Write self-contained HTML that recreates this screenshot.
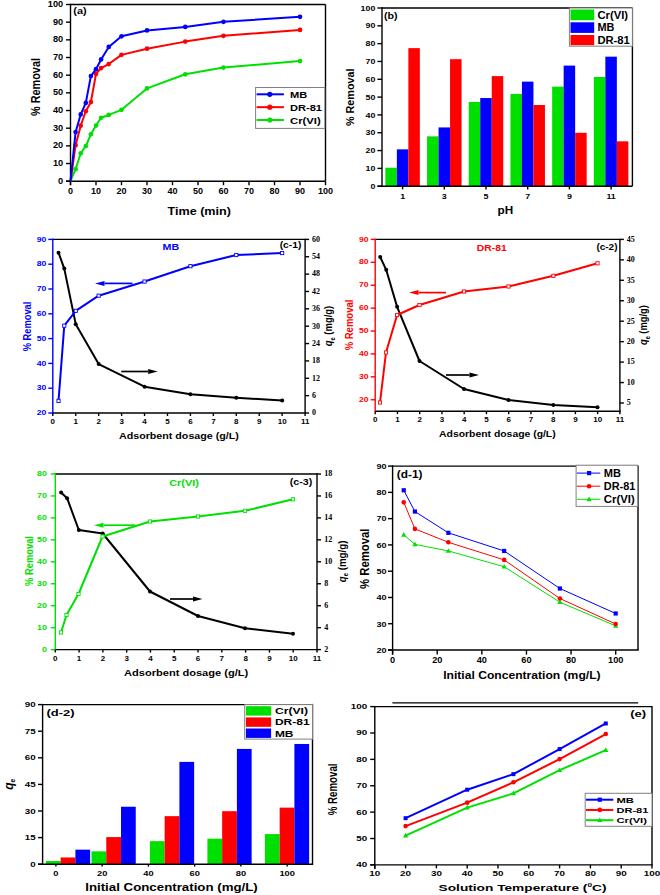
<!DOCTYPE html>
<html><head><meta charset="utf-8"><style>
html,body{margin:0;padding:0;background:#fff;}
svg{display:block;}
</style></head><body>
<svg xmlns="http://www.w3.org/2000/svg" width="660" height="895" viewBox="0 0 660 895">
<rect width="660" height="895" fill="#fff"/>
<line x1="70.5" y1="4.5" x2="325.5" y2="4.5" stroke="#000" stroke-width="1.4"/>
<line x1="325.5" y1="4.5" x2="325.5" y2="181.2" stroke="#000" stroke-width="1.4"/>
<line x1="66" y1="181.2" x2="325.5" y2="181.2" stroke="#000" stroke-width="1.4"/>
<line x1="70.5" y1="3.8" x2="70.5" y2="185.2" stroke="#000" stroke-width="1.4"/>
<line x1="66" y1="181.2" x2="70.5" y2="181.2" stroke="#000" stroke-width="1.4"/>
<text transform="translate(63.2,183.7) scale(1.070,1)" font-family='"Liberation Sans", sans-serif' font-size="8.6" font-weight="bold" fill="#000" text-anchor="end">0</text>
<line x1="70.5" y1="181.2" x2="70.5" y2="185.2" stroke="#000" stroke-width="1.4"/>
<text transform="translate(70.5,193.8)" font-family='"Liberation Sans", sans-serif' font-size="9" font-weight="bold" fill="#000" text-anchor="middle">0</text>
<line x1="66" y1="163.53" x2="70.5" y2="163.53" stroke="#000" stroke-width="1.4"/>
<text transform="translate(63.2,166.03) scale(1.070,1)" font-family='"Liberation Sans", sans-serif' font-size="8.6" font-weight="bold" fill="#000" text-anchor="end">10</text>
<line x1="96" y1="181.2" x2="96" y2="185.2" stroke="#000" stroke-width="1.4"/>
<text transform="translate(96,193.8)" font-family='"Liberation Sans", sans-serif' font-size="9" font-weight="bold" fill="#000" text-anchor="middle">10</text>
<line x1="66" y1="145.86" x2="70.5" y2="145.86" stroke="#000" stroke-width="1.4"/>
<text transform="translate(63.2,148.36) scale(1.070,1)" font-family='"Liberation Sans", sans-serif' font-size="8.6" font-weight="bold" fill="#000" text-anchor="end">20</text>
<line x1="121.5" y1="181.2" x2="121.5" y2="185.2" stroke="#000" stroke-width="1.4"/>
<text transform="translate(121.5,193.8)" font-family='"Liberation Sans", sans-serif' font-size="9" font-weight="bold" fill="#000" text-anchor="middle">20</text>
<line x1="66" y1="128.19" x2="70.5" y2="128.19" stroke="#000" stroke-width="1.4"/>
<text transform="translate(63.2,130.69) scale(1.070,1)" font-family='"Liberation Sans", sans-serif' font-size="8.6" font-weight="bold" fill="#000" text-anchor="end">30</text>
<line x1="147" y1="181.2" x2="147" y2="185.2" stroke="#000" stroke-width="1.4"/>
<text transform="translate(147,193.8)" font-family='"Liberation Sans", sans-serif' font-size="9" font-weight="bold" fill="#000" text-anchor="middle">30</text>
<line x1="66" y1="110.52" x2="70.5" y2="110.52" stroke="#000" stroke-width="1.4"/>
<text transform="translate(63.2,113.02) scale(1.070,1)" font-family='"Liberation Sans", sans-serif' font-size="8.6" font-weight="bold" fill="#000" text-anchor="end">40</text>
<line x1="172.5" y1="181.2" x2="172.5" y2="185.2" stroke="#000" stroke-width="1.4"/>
<text transform="translate(172.5,193.8)" font-family='"Liberation Sans", sans-serif' font-size="9" font-weight="bold" fill="#000" text-anchor="middle">40</text>
<line x1="66" y1="92.85" x2="70.5" y2="92.85" stroke="#000" stroke-width="1.4"/>
<text transform="translate(63.2,95.35) scale(1.070,1)" font-family='"Liberation Sans", sans-serif' font-size="8.6" font-weight="bold" fill="#000" text-anchor="end">50</text>
<line x1="198" y1="181.2" x2="198" y2="185.2" stroke="#000" stroke-width="1.4"/>
<text transform="translate(198,193.8)" font-family='"Liberation Sans", sans-serif' font-size="9" font-weight="bold" fill="#000" text-anchor="middle">50</text>
<line x1="66" y1="75.18" x2="70.5" y2="75.18" stroke="#000" stroke-width="1.4"/>
<text transform="translate(63.2,77.68) scale(1.070,1)" font-family='"Liberation Sans", sans-serif' font-size="8.6" font-weight="bold" fill="#000" text-anchor="end">60</text>
<line x1="223.5" y1="181.2" x2="223.5" y2="185.2" stroke="#000" stroke-width="1.4"/>
<text transform="translate(223.5,193.8)" font-family='"Liberation Sans", sans-serif' font-size="9" font-weight="bold" fill="#000" text-anchor="middle">60</text>
<line x1="66" y1="57.51" x2="70.5" y2="57.51" stroke="#000" stroke-width="1.4"/>
<text transform="translate(63.2,60.01) scale(1.070,1)" font-family='"Liberation Sans", sans-serif' font-size="8.6" font-weight="bold" fill="#000" text-anchor="end">70</text>
<line x1="249" y1="181.2" x2="249" y2="185.2" stroke="#000" stroke-width="1.4"/>
<text transform="translate(249,193.8)" font-family='"Liberation Sans", sans-serif' font-size="9" font-weight="bold" fill="#000" text-anchor="middle">70</text>
<line x1="66" y1="39.84" x2="70.5" y2="39.84" stroke="#000" stroke-width="1.4"/>
<text transform="translate(63.2,42.34) scale(1.070,1)" font-family='"Liberation Sans", sans-serif' font-size="8.6" font-weight="bold" fill="#000" text-anchor="end">80</text>
<line x1="274.5" y1="181.2" x2="274.5" y2="185.2" stroke="#000" stroke-width="1.4"/>
<text transform="translate(274.5,193.8)" font-family='"Liberation Sans", sans-serif' font-size="9" font-weight="bold" fill="#000" text-anchor="middle">80</text>
<line x1="66" y1="22.17" x2="70.5" y2="22.17" stroke="#000" stroke-width="1.4"/>
<text transform="translate(63.2,24.67) scale(1.070,1)" font-family='"Liberation Sans", sans-serif' font-size="8.6" font-weight="bold" fill="#000" text-anchor="end">90</text>
<line x1="300" y1="181.2" x2="300" y2="185.2" stroke="#000" stroke-width="1.4"/>
<text transform="translate(300,193.8)" font-family='"Liberation Sans", sans-serif' font-size="9" font-weight="bold" fill="#000" text-anchor="middle">90</text>
<line x1="66" y1="4.5" x2="70.5" y2="4.5" stroke="#000" stroke-width="1.4"/>
<text transform="translate(63.2,7) scale(1.070,1)" font-family='"Liberation Sans", sans-serif' font-size="8.6" font-weight="bold" fill="#000" text-anchor="end">100</text>
<line x1="325.5" y1="181.2" x2="325.5" y2="185.2" stroke="#000" stroke-width="1.4"/>
<text transform="translate(325.5,193.8)" font-family='"Liberation Sans", sans-serif' font-size="9" font-weight="bold" fill="#000" text-anchor="middle">100</text>
<text transform="translate(40.3,87) rotate(-90) scale(0.906,1)" font-family='"Liberation Sans", sans-serif' font-size="12" font-weight="bold" fill="#000" text-anchor="middle">% Removal</text>
<text transform="translate(167.5,214.7) scale(1.167,1)" font-family='"Liberation Sans", sans-serif' font-size="10.8" font-weight="bold" fill="#000" text-anchor="start">Time (min)</text>
<text transform="translate(73.3,14) scale(1.256,1)" font-family='"Liberation Sans", sans-serif' font-size="8.6" font-weight="bold" fill="#000" text-anchor="start">(a)</text>
<polyline points="70.5,181.2 75.6,169.18 80.7,153.28 85.8,146.04 90.9,134.37 96,125.54 101.1,117.76 108.75,114.94 121.5,109.81 147,88.43 185.25,74.3 223.5,67.58 300,61.04" fill="none" stroke="#00e000" stroke-width="2" stroke-linejoin="round"/>
<circle cx="75.6" cy="169.18" r="2.35" fill="#00e000"/>
<circle cx="80.7" cy="153.28" r="2.35" fill="#00e000"/>
<circle cx="85.8" cy="146.04" r="2.35" fill="#00e000"/>
<circle cx="90.9" cy="134.37" r="2.35" fill="#00e000"/>
<circle cx="96" cy="125.54" r="2.35" fill="#00e000"/>
<circle cx="101.1" cy="117.76" r="2.35" fill="#00e000"/>
<circle cx="108.75" cy="114.94" r="2.35" fill="#00e000"/>
<circle cx="121.5" cy="109.81" r="2.35" fill="#00e000"/>
<circle cx="147" cy="88.43" r="2.35" fill="#00e000"/>
<circle cx="185.25" cy="74.3" r="2.35" fill="#00e000"/>
<circle cx="223.5" cy="67.58" r="2.35" fill="#00e000"/>
<circle cx="300" cy="61.04" r="2.35" fill="#00e000"/>
<polyline points="70.5,181.2 75.6,145.15 80.7,125.72 85.8,111.23 90.9,102.04 96,73.94 101.1,68.11 108.75,64.05 121.5,54.86 147,48.67 185.25,41.61 223.5,35.78 300,29.94" fill="none" stroke="#ff0000" stroke-width="2" stroke-linejoin="round"/>
<circle cx="75.6" cy="145.15" r="2.35" fill="#ff0000"/>
<circle cx="80.7" cy="125.72" r="2.35" fill="#ff0000"/>
<circle cx="85.8" cy="111.23" r="2.35" fill="#ff0000"/>
<circle cx="90.9" cy="102.04" r="2.35" fill="#ff0000"/>
<circle cx="96" cy="73.94" r="2.35" fill="#ff0000"/>
<circle cx="101.1" cy="68.11" r="2.35" fill="#ff0000"/>
<circle cx="108.75" cy="64.05" r="2.35" fill="#ff0000"/>
<circle cx="121.5" cy="54.86" r="2.35" fill="#ff0000"/>
<circle cx="147" cy="48.67" r="2.35" fill="#ff0000"/>
<circle cx="185.25" cy="41.61" r="2.35" fill="#ff0000"/>
<circle cx="223.5" cy="35.78" r="2.35" fill="#ff0000"/>
<circle cx="300" cy="29.94" r="2.35" fill="#ff0000"/>
<polyline points="70.5,181.2 75.6,132.08 80.7,114.41 85.8,102.92 90.9,76.06 96,69.17 101.1,59.45 108.75,46.91 121.5,36.31 147,30.47 185.25,26.94 223.5,21.82 300,16.87" fill="none" stroke="#0000ff" stroke-width="2" stroke-linejoin="round"/>
<circle cx="75.6" cy="132.08" r="2.35" fill="#0000ff"/>
<circle cx="80.7" cy="114.41" r="2.35" fill="#0000ff"/>
<circle cx="85.8" cy="102.92" r="2.35" fill="#0000ff"/>
<circle cx="90.9" cy="76.06" r="2.35" fill="#0000ff"/>
<circle cx="96" cy="69.17" r="2.35" fill="#0000ff"/>
<circle cx="101.1" cy="59.45" r="2.35" fill="#0000ff"/>
<circle cx="108.75" cy="46.91" r="2.35" fill="#0000ff"/>
<circle cx="121.5" cy="36.31" r="2.35" fill="#0000ff"/>
<circle cx="147" cy="30.47" r="2.35" fill="#0000ff"/>
<circle cx="185.25" cy="26.94" r="2.35" fill="#0000ff"/>
<circle cx="223.5" cy="21.82" r="2.35" fill="#0000ff"/>
<circle cx="300" cy="16.87" r="2.35" fill="#0000ff"/>
<rect x="255.6" y="87.5" width="69.2" height="40.9" fill="#fff" stroke="#808080" stroke-width="1"/>
<line x1="256.6" y1="94.3" x2="283.9" y2="94.3" stroke="#0000ff" stroke-width="2"/>
<circle cx="269.8" cy="94.3" r="2.6" fill="#0000ff"/>
<text transform="translate(290,98) scale(1.124,1)" font-family='"Liberation Sans", sans-serif' font-size="9.9" font-weight="bold" fill="#000" text-anchor="start">MB</text>
<line x1="256.6" y1="107.15" x2="283.9" y2="107.15" stroke="#ff0000" stroke-width="2"/>
<circle cx="269.8" cy="107.15" r="2.6" fill="#ff0000"/>
<text transform="translate(290,110.85) scale(1.119,1)" font-family='"Liberation Sans", sans-serif' font-size="9.9" font-weight="bold" fill="#000" text-anchor="start">DR-81</text>
<line x1="256.6" y1="120" x2="283.9" y2="120" stroke="#00e000" stroke-width="2"/>
<circle cx="269.8" cy="120" r="2.6" fill="#00e000"/>
<text transform="translate(290,123.7) scale(1.139,1)" font-family='"Liberation Sans", sans-serif' font-size="9.9" font-weight="bold" fill="#000" text-anchor="start">Cr(VI)</text>
<rect x="385.35" y="167.7" width="11.5" height="18.5" fill="#00e000"/>
<rect x="396.85" y="149.35" width="11.5" height="36.85" fill="#0000ff"/>
<rect x="408.35" y="48.13" width="11.5" height="138.07" fill="#ff0000"/>
<rect x="427.05" y="136.34" width="11.5" height="49.86" fill="#00e000"/>
<rect x="438.55" y="127.43" width="11.5" height="58.77" fill="#0000ff"/>
<rect x="450.05" y="59.18" width="11.5" height="127.02" fill="#ff0000"/>
<rect x="468.75" y="101.95" width="11.5" height="84.25" fill="#00e000"/>
<rect x="480.25" y="98.03" width="11.5" height="88.17" fill="#0000ff"/>
<rect x="491.75" y="76.11" width="11.5" height="110.09" fill="#ff0000"/>
<rect x="510.45" y="93.93" width="11.5" height="92.27" fill="#00e000"/>
<rect x="521.95" y="81.63" width="11.5" height="104.57" fill="#0000ff"/>
<rect x="533.45" y="104.98" width="11.5" height="81.22" fill="#ff0000"/>
<rect x="552.15" y="86.62" width="11.5" height="99.58" fill="#00e000"/>
<rect x="563.65" y="65.59" width="11.5" height="120.61" fill="#0000ff"/>
<rect x="575.15" y="132.77" width="11.5" height="53.43" fill="#ff0000"/>
<rect x="593.85" y="77" width="11.5" height="109.2" fill="#00e000"/>
<rect x="605.35" y="56.68" width="11.5" height="129.52" fill="#0000ff"/>
<rect x="616.85" y="141.33" width="11.5" height="44.87" fill="#ff0000"/>
<line x1="382" y1="8" x2="632.4" y2="8" stroke="#000" stroke-width="1.4"/>
<line x1="632.4" y1="8" x2="632.4" y2="186.2" stroke="#000" stroke-width="1.4"/>
<line x1="377.5" y1="186.2" x2="632.4" y2="186.2" stroke="#000" stroke-width="1.4"/>
<line x1="382" y1="7.3" x2="382" y2="186.9" stroke="#000" stroke-width="1.4"/>
<line x1="377.4" y1="186.2" x2="382" y2="186.2" stroke="#000" stroke-width="1.4"/>
<text transform="translate(375.3,188.8) scale(1.160,1)" font-family='"Liberation Sans", sans-serif' font-size="7.6" font-weight="bold" fill="#000" text-anchor="end">0</text>
<line x1="377.4" y1="168.38" x2="382" y2="168.38" stroke="#000" stroke-width="1.4"/>
<text transform="translate(375.3,170.98) scale(1.160,1)" font-family='"Liberation Sans", sans-serif' font-size="7.6" font-weight="bold" fill="#000" text-anchor="end">10</text>
<line x1="377.4" y1="150.56" x2="382" y2="150.56" stroke="#000" stroke-width="1.4"/>
<text transform="translate(375.3,153.16) scale(1.160,1)" font-family='"Liberation Sans", sans-serif' font-size="7.6" font-weight="bold" fill="#000" text-anchor="end">20</text>
<line x1="377.4" y1="132.74" x2="382" y2="132.74" stroke="#000" stroke-width="1.4"/>
<text transform="translate(375.3,135.34) scale(1.160,1)" font-family='"Liberation Sans", sans-serif' font-size="7.6" font-weight="bold" fill="#000" text-anchor="end">30</text>
<line x1="377.4" y1="114.92" x2="382" y2="114.92" stroke="#000" stroke-width="1.4"/>
<text transform="translate(375.3,117.52) scale(1.160,1)" font-family='"Liberation Sans", sans-serif' font-size="7.6" font-weight="bold" fill="#000" text-anchor="end">40</text>
<line x1="377.4" y1="97.1" x2="382" y2="97.1" stroke="#000" stroke-width="1.4"/>
<text transform="translate(375.3,99.7) scale(1.160,1)" font-family='"Liberation Sans", sans-serif' font-size="7.6" font-weight="bold" fill="#000" text-anchor="end">50</text>
<line x1="377.4" y1="79.28" x2="382" y2="79.28" stroke="#000" stroke-width="1.4"/>
<text transform="translate(375.3,81.88) scale(1.160,1)" font-family='"Liberation Sans", sans-serif' font-size="7.6" font-weight="bold" fill="#000" text-anchor="end">60</text>
<line x1="377.4" y1="61.46" x2="382" y2="61.46" stroke="#000" stroke-width="1.4"/>
<text transform="translate(375.3,64.06) scale(1.160,1)" font-family='"Liberation Sans", sans-serif' font-size="7.6" font-weight="bold" fill="#000" text-anchor="end">70</text>
<line x1="377.4" y1="43.64" x2="382" y2="43.64" stroke="#000" stroke-width="1.4"/>
<text transform="translate(375.3,46.24) scale(1.160,1)" font-family='"Liberation Sans", sans-serif' font-size="7.6" font-weight="bold" fill="#000" text-anchor="end">80</text>
<line x1="377.4" y1="25.82" x2="382" y2="25.82" stroke="#000" stroke-width="1.4"/>
<text transform="translate(375.3,28.42) scale(1.160,1)" font-family='"Liberation Sans", sans-serif' font-size="7.6" font-weight="bold" fill="#000" text-anchor="end">90</text>
<line x1="377.4" y1="8" x2="382" y2="8" stroke="#000" stroke-width="1.4"/>
<text transform="translate(375.3,10.6) scale(1.160,1)" font-family='"Liberation Sans", sans-serif' font-size="7.6" font-weight="bold" fill="#000" text-anchor="end">100</text>
<line x1="402.6" y1="186.2" x2="402.6" y2="189.4" stroke="#000" stroke-width="1.4"/>
<text transform="translate(402.6,198.6) scale(1.200,1)" font-family='"Liberation Sans", sans-serif' font-size="7.4" font-weight="bold" fill="#000" text-anchor="middle">1</text>
<line x1="444.3" y1="186.2" x2="444.3" y2="189.4" stroke="#000" stroke-width="1.4"/>
<text transform="translate(444.3,198.6) scale(1.200,1)" font-family='"Liberation Sans", sans-serif' font-size="7.4" font-weight="bold" fill="#000" text-anchor="middle">3</text>
<line x1="486" y1="186.2" x2="486" y2="189.4" stroke="#000" stroke-width="1.4"/>
<text transform="translate(486,198.6) scale(1.200,1)" font-family='"Liberation Sans", sans-serif' font-size="7.4" font-weight="bold" fill="#000" text-anchor="middle">5</text>
<line x1="527.7" y1="186.2" x2="527.7" y2="189.4" stroke="#000" stroke-width="1.4"/>
<text transform="translate(527.7,198.6) scale(1.200,1)" font-family='"Liberation Sans", sans-serif' font-size="7.4" font-weight="bold" fill="#000" text-anchor="middle">7</text>
<line x1="569.4" y1="186.2" x2="569.4" y2="189.4" stroke="#000" stroke-width="1.4"/>
<text transform="translate(569.4,198.6) scale(1.200,1)" font-family='"Liberation Sans", sans-serif' font-size="7.4" font-weight="bold" fill="#000" text-anchor="middle">9</text>
<line x1="611.1" y1="186.2" x2="611.1" y2="189.4" stroke="#000" stroke-width="1.4"/>
<text transform="translate(611.1,198.6) scale(1.200,1)" font-family='"Liberation Sans", sans-serif' font-size="7.4" font-weight="bold" fill="#000" text-anchor="middle">11</text>
<text transform="translate(354.3,97.3) rotate(-90)" font-family='"Liberation Sans", sans-serif' font-size="10.8" font-weight="bold" fill="#000" text-anchor="middle">% Removal</text>
<text transform="translate(497.6,213.9) scale(1.147,1)" font-family='"Liberation Sans", sans-serif' font-size="10.2" font-weight="bold" fill="#000" text-anchor="start">pH</text>
<text transform="translate(384,19.1) scale(1.224,1)" font-family='"Liberation Sans", sans-serif' font-size="8.7" font-weight="bold" fill="#000" text-anchor="start">(b)</text>
<rect x="569.4" y="8" width="63" height="38.2" fill="#fff" stroke="#808080" stroke-width="1"/>
<rect x="570.5" y="9.5" width="23.7" height="10.7" fill="#00e000"/>
<text transform="translate(597.4,18.7) scale(1.098,1)" font-family='"Liberation Sans", sans-serif' font-size="10.3" font-weight="bold" fill="#000" text-anchor="start">Cr(VI)</text>
<rect x="570.5" y="22.3" width="23.7" height="10.6" fill="#0000ff"/>
<text transform="translate(597.4,31.45) scale(1.061,1)" font-family='"Liberation Sans", sans-serif' font-size="10.3" font-weight="bold" fill="#000" text-anchor="start">MB</text>
<rect x="570.5" y="35" width="23.7" height="10.2" fill="#ff0000"/>
<text transform="translate(597.4,43.95) scale(1.092,1)" font-family='"Liberation Sans", sans-serif' font-size="10.3" font-weight="bold" fill="#000" text-anchor="start">DR-81</text>
<polyline points="58.53,252.71 64.27,268.62 75.74,324.17 98.67,364.1 144.55,386.67 190.42,394.19 236.29,397.67 282.16,400.56" fill="none" stroke="#000" stroke-width="2" stroke-linejoin="round"/>
<circle cx="58.53" cy="252.71" r="2" fill="#000"/>
<circle cx="64.27" cy="268.62" r="2" fill="#000"/>
<circle cx="75.74" cy="324.17" r="2" fill="#000"/>
<circle cx="98.67" cy="364.1" r="2" fill="#000"/>
<circle cx="144.55" cy="386.67" r="2" fill="#000"/>
<circle cx="190.42" cy="394.19" r="2" fill="#000"/>
<circle cx="236.29" cy="397.67" r="2" fill="#000"/>
<circle cx="282.16" cy="400.56" r="2" fill="#000"/>
<polyline points="58.53,400.85 64.27,325.7 75.74,310.82 98.67,295.7 144.55,281.56 190.42,266.18 236.29,255.02 282.16,253.04" fill="none" stroke="#0000ff" stroke-width="2" stroke-linejoin="round"/>
<rect x="56.93" y="399.25" width="3.2" height="3.2" fill="#fff" stroke="#0000ff" stroke-width="0.9"/>
<rect x="62.67" y="324.1" width="3.2" height="3.2" fill="#fff" stroke="#0000ff" stroke-width="0.9"/>
<rect x="74.14" y="309.22" width="3.2" height="3.2" fill="#fff" stroke="#0000ff" stroke-width="0.9"/>
<rect x="97.07" y="294.1" width="3.2" height="3.2" fill="#fff" stroke="#0000ff" stroke-width="0.9"/>
<rect x="142.95" y="279.96" width="3.2" height="3.2" fill="#fff" stroke="#0000ff" stroke-width="0.9"/>
<rect x="188.82" y="264.58" width="3.2" height="3.2" fill="#fff" stroke="#0000ff" stroke-width="0.9"/>
<rect x="234.69" y="253.42" width="3.2" height="3.2" fill="#fff" stroke="#0000ff" stroke-width="0.9"/>
<rect x="280.56" y="251.44" width="3.2" height="3.2" fill="#fff" stroke="#0000ff" stroke-width="0.9"/>
<line x1="52.1" y1="239.4" x2="305.1" y2="239.4" stroke="#000" stroke-width="1.4"/>
<line x1="52.8" y1="413" x2="305.8" y2="413" stroke="#000" stroke-width="1.4"/>
<line x1="305.1" y1="238.7" x2="305.1" y2="413.7" stroke="#000" stroke-width="1.4"/>
<line x1="52.8" y1="238.7" x2="52.8" y2="413.7" stroke="#0000ff" stroke-width="1.4"/>
<line x1="48.3" y1="413" x2="52.8" y2="413" stroke="#0000ff" stroke-width="1.4"/>
<text transform="translate(46.3,415.1) scale(1.200,1)" font-family='"Liberation Sans", sans-serif' font-size="7.2" font-weight="bold" fill="#0000ff" text-anchor="end">20</text>
<line x1="48.3" y1="388.2" x2="52.8" y2="388.2" stroke="#0000ff" stroke-width="1.4"/>
<text transform="translate(46.3,390.3) scale(1.200,1)" font-family='"Liberation Sans", sans-serif' font-size="7.2" font-weight="bold" fill="#0000ff" text-anchor="end">30</text>
<line x1="48.3" y1="363.4" x2="52.8" y2="363.4" stroke="#0000ff" stroke-width="1.4"/>
<text transform="translate(46.3,365.5) scale(1.200,1)" font-family='"Liberation Sans", sans-serif' font-size="7.2" font-weight="bold" fill="#0000ff" text-anchor="end">40</text>
<line x1="48.3" y1="338.6" x2="52.8" y2="338.6" stroke="#0000ff" stroke-width="1.4"/>
<text transform="translate(46.3,340.7) scale(1.200,1)" font-family='"Liberation Sans", sans-serif' font-size="7.2" font-weight="bold" fill="#0000ff" text-anchor="end">50</text>
<line x1="48.3" y1="313.8" x2="52.8" y2="313.8" stroke="#0000ff" stroke-width="1.4"/>
<text transform="translate(46.3,315.9) scale(1.200,1)" font-family='"Liberation Sans", sans-serif' font-size="7.2" font-weight="bold" fill="#0000ff" text-anchor="end">60</text>
<line x1="48.3" y1="289" x2="52.8" y2="289" stroke="#0000ff" stroke-width="1.4"/>
<text transform="translate(46.3,291.1) scale(1.200,1)" font-family='"Liberation Sans", sans-serif' font-size="7.2" font-weight="bold" fill="#0000ff" text-anchor="end">70</text>
<line x1="48.3" y1="264.2" x2="52.8" y2="264.2" stroke="#0000ff" stroke-width="1.4"/>
<text transform="translate(46.3,266.3) scale(1.200,1)" font-family='"Liberation Sans", sans-serif' font-size="7.2" font-weight="bold" fill="#0000ff" text-anchor="end">80</text>
<line x1="48.3" y1="239.4" x2="52.8" y2="239.4" stroke="#0000ff" stroke-width="1.4"/>
<text transform="translate(46.3,241.5) scale(1.200,1)" font-family='"Liberation Sans", sans-serif' font-size="7.2" font-weight="bold" fill="#0000ff" text-anchor="end">90</text>
<line x1="305.1" y1="413" x2="309.1" y2="413" stroke="#000" stroke-width="1.4"/>
<text transform="translate(311.9,415.3) scale(1.050,1)" font-family='"Liberation Serif", serif' font-size="7.6" font-weight="bold" fill="#000" text-anchor="start">0</text>
<line x1="305.1" y1="395.64" x2="309.1" y2="395.64" stroke="#000" stroke-width="1.4"/>
<text transform="translate(311.9,397.94) scale(1.050,1)" font-family='"Liberation Serif", serif' font-size="7.6" font-weight="bold" fill="#000" text-anchor="start">6</text>
<line x1="305.1" y1="378.28" x2="309.1" y2="378.28" stroke="#000" stroke-width="1.4"/>
<text transform="translate(311.9,380.58) scale(1.050,1)" font-family='"Liberation Serif", serif' font-size="7.6" font-weight="bold" fill="#000" text-anchor="start">12</text>
<line x1="305.1" y1="360.92" x2="309.1" y2="360.92" stroke="#000" stroke-width="1.4"/>
<text transform="translate(311.9,363.22) scale(1.050,1)" font-family='"Liberation Serif", serif' font-size="7.6" font-weight="bold" fill="#000" text-anchor="start">18</text>
<line x1="305.1" y1="343.56" x2="309.1" y2="343.56" stroke="#000" stroke-width="1.4"/>
<text transform="translate(311.9,345.86) scale(1.050,1)" font-family='"Liberation Serif", serif' font-size="7.6" font-weight="bold" fill="#000" text-anchor="start">24</text>
<line x1="305.1" y1="326.2" x2="309.1" y2="326.2" stroke="#000" stroke-width="1.4"/>
<text transform="translate(311.9,328.5) scale(1.050,1)" font-family='"Liberation Serif", serif' font-size="7.6" font-weight="bold" fill="#000" text-anchor="start">30</text>
<line x1="305.1" y1="308.84" x2="309.1" y2="308.84" stroke="#000" stroke-width="1.4"/>
<text transform="translate(311.9,311.14) scale(1.050,1)" font-family='"Liberation Serif", serif' font-size="7.6" font-weight="bold" fill="#000" text-anchor="start">36</text>
<line x1="305.1" y1="291.48" x2="309.1" y2="291.48" stroke="#000" stroke-width="1.4"/>
<text transform="translate(311.9,293.78) scale(1.050,1)" font-family='"Liberation Serif", serif' font-size="7.6" font-weight="bold" fill="#000" text-anchor="start">42</text>
<line x1="305.1" y1="274.12" x2="309.1" y2="274.12" stroke="#000" stroke-width="1.4"/>
<text transform="translate(311.9,276.42) scale(1.050,1)" font-family='"Liberation Serif", serif' font-size="7.6" font-weight="bold" fill="#000" text-anchor="start">48</text>
<line x1="305.1" y1="256.76" x2="309.1" y2="256.76" stroke="#000" stroke-width="1.4"/>
<text transform="translate(311.9,259.06) scale(1.050,1)" font-family='"Liberation Serif", serif' font-size="7.6" font-weight="bold" fill="#000" text-anchor="start">54</text>
<line x1="305.1" y1="239.4" x2="309.1" y2="239.4" stroke="#000" stroke-width="1.4"/>
<text transform="translate(311.9,241.7) scale(1.050,1)" font-family='"Liberation Serif", serif' font-size="7.6" font-weight="bold" fill="#000" text-anchor="start">60</text>
<line x1="52.8" y1="413" x2="52.8" y2="416" stroke="#000" stroke-width="1.4"/>
<text transform="translate(52.8,424.3) scale(1.080,1)" font-family='"Liberation Sans", sans-serif' font-size="7.4" font-weight="bold" fill="#000" text-anchor="middle">0</text>
<line x1="75.74" y1="413" x2="75.74" y2="416" stroke="#000" stroke-width="1.4"/>
<text transform="translate(75.74,424.3) scale(1.080,1)" font-family='"Liberation Sans", sans-serif' font-size="7.4" font-weight="bold" fill="#000" text-anchor="middle">1</text>
<line x1="98.67" y1="413" x2="98.67" y2="416" stroke="#000" stroke-width="1.4"/>
<text transform="translate(98.67,424.3) scale(1.080,1)" font-family='"Liberation Sans", sans-serif' font-size="7.4" font-weight="bold" fill="#000" text-anchor="middle">2</text>
<line x1="121.61" y1="413" x2="121.61" y2="416" stroke="#000" stroke-width="1.4"/>
<text transform="translate(121.61,424.3) scale(1.080,1)" font-family='"Liberation Sans", sans-serif' font-size="7.4" font-weight="bold" fill="#000" text-anchor="middle">3</text>
<line x1="144.55" y1="413" x2="144.55" y2="416" stroke="#000" stroke-width="1.4"/>
<text transform="translate(144.55,424.3) scale(1.080,1)" font-family='"Liberation Sans", sans-serif' font-size="7.4" font-weight="bold" fill="#000" text-anchor="middle">4</text>
<line x1="167.48" y1="413" x2="167.48" y2="416" stroke="#000" stroke-width="1.4"/>
<text transform="translate(167.48,424.3) scale(1.080,1)" font-family='"Liberation Sans", sans-serif' font-size="7.4" font-weight="bold" fill="#000" text-anchor="middle">5</text>
<line x1="190.42" y1="413" x2="190.42" y2="416" stroke="#000" stroke-width="1.4"/>
<text transform="translate(190.42,424.3) scale(1.080,1)" font-family='"Liberation Sans", sans-serif' font-size="7.4" font-weight="bold" fill="#000" text-anchor="middle">6</text>
<line x1="213.35" y1="413" x2="213.35" y2="416" stroke="#000" stroke-width="1.4"/>
<text transform="translate(213.35,424.3) scale(1.080,1)" font-family='"Liberation Sans", sans-serif' font-size="7.4" font-weight="bold" fill="#000" text-anchor="middle">7</text>
<line x1="236.29" y1="413" x2="236.29" y2="416" stroke="#000" stroke-width="1.4"/>
<text transform="translate(236.29,424.3) scale(1.080,1)" font-family='"Liberation Sans", sans-serif' font-size="7.4" font-weight="bold" fill="#000" text-anchor="middle">8</text>
<line x1="259.23" y1="413" x2="259.23" y2="416" stroke="#000" stroke-width="1.4"/>
<text transform="translate(259.23,424.3) scale(1.080,1)" font-family='"Liberation Sans", sans-serif' font-size="7.4" font-weight="bold" fill="#000" text-anchor="middle">9</text>
<line x1="282.16" y1="413" x2="282.16" y2="416" stroke="#000" stroke-width="1.4"/>
<text transform="translate(282.16,424.3) scale(1.080,1)" font-family='"Liberation Sans", sans-serif' font-size="7.4" font-weight="bold" fill="#000" text-anchor="middle">10</text>
<line x1="305.1" y1="413" x2="305.1" y2="416" stroke="#000" stroke-width="1.4"/>
<text transform="translate(305.1,424.3) scale(1.080,1)" font-family='"Liberation Sans", sans-serif' font-size="7.4" font-weight="bold" fill="#000" text-anchor="middle">11</text>
<text transform="translate(162.6,250.4) scale(1.112,1)" font-family='"Liberation Sans", sans-serif' font-size="9.6" font-weight="bold" fill="#0000ff" text-anchor="start">MB</text>
<text transform="translate(279.7,247.5) scale(1.253,1)" font-family='"Liberation Sans", sans-serif' font-size="8.2" font-weight="bold" fill="#000" text-anchor="start">(c-1)</text>
<line x1="132.5" y1="283.4" x2="104.5" y2="283.4" stroke="#0000ff" stroke-width="1.7"/>
<polygon points="95,283.4 104.5,280.9 104.5,285.9" fill="#0000ff"/>
<line x1="121.2" y1="371.5" x2="148.2" y2="371.5" stroke="#000" stroke-width="1.7"/>
<polygon points="157.7,371.5 148.2,369 148.2,374" fill="#000"/>
<text transform="translate(31,326.5) rotate(-90) scale(0.896,1)" font-family='"Liberation Sans", sans-serif' font-size="10.4" font-weight="bold" fill="#0000ff" text-anchor="middle">% Removal</text>
<text transform="translate(332.3,326) rotate(-90)" font-family='"Liberation Sans", sans-serif' font-size="10.8" font-weight="bold" text-anchor="middle" textLength="40.5" lengthAdjust="spacingAndGlyphs"><tspan font-style="italic">q</tspan><tspan font-size="6.48" dy="2.7">e</tspan><tspan dy="-2.7"> (mg/g)</tspan></text>
<text transform="translate(119,438.6) scale(1.243,1)" font-family='"Liberation Sans", sans-serif' font-size="8.6" font-weight="bold" fill="#000" text-anchor="start">Adsorbent dosage (g/L)</text>
<polyline points="380.2,257 386.2,269.8 397.1,306.8 419.5,361 464,389 508.5,400 553.4,405 597.5,407.3" fill="none" stroke="#000" stroke-width="2" stroke-linejoin="round"/>
<circle cx="380.2" cy="257" r="2" fill="#000"/>
<circle cx="386.2" cy="269.8" r="2" fill="#000"/>
<circle cx="397.1" cy="306.8" r="2" fill="#000"/>
<circle cx="419.5" cy="361" r="2" fill="#000"/>
<circle cx="464" cy="389" r="2" fill="#000"/>
<circle cx="508.5" cy="400" r="2" fill="#000"/>
<circle cx="553.4" cy="405" r="2" fill="#000"/>
<circle cx="597.5" cy="407.3" r="2" fill="#000"/>
<polyline points="380,402.5 386,352.5 397.1,315 419.5,305 464,291.5 508.5,286.5 553.4,275.8 597.5,263.3" fill="none" stroke="#ff0000" stroke-width="2" stroke-linejoin="round"/>
<rect x="378.4" y="400.9" width="3.2" height="3.2" fill="#fff" stroke="#ff0000" stroke-width="0.9"/>
<rect x="384.4" y="350.9" width="3.2" height="3.2" fill="#fff" stroke="#ff0000" stroke-width="0.9"/>
<rect x="395.5" y="313.4" width="3.2" height="3.2" fill="#fff" stroke="#ff0000" stroke-width="0.9"/>
<rect x="417.9" y="303.4" width="3.2" height="3.2" fill="#fff" stroke="#ff0000" stroke-width="0.9"/>
<rect x="462.4" y="289.9" width="3.2" height="3.2" fill="#fff" stroke="#ff0000" stroke-width="0.9"/>
<rect x="506.9" y="284.9" width="3.2" height="3.2" fill="#fff" stroke="#ff0000" stroke-width="0.9"/>
<rect x="551.8" y="274.2" width="3.2" height="3.2" fill="#fff" stroke="#ff0000" stroke-width="0.9"/>
<rect x="595.9" y="261.7" width="3.2" height="3.2" fill="#fff" stroke="#ff0000" stroke-width="0.9"/>
<line x1="374.5" y1="239.4" x2="619.9" y2="239.4" stroke="#000" stroke-width="1.4"/>
<line x1="375.2" y1="411.2" x2="620.6" y2="411.2" stroke="#000" stroke-width="1.4"/>
<line x1="619.9" y1="238.7" x2="619.9" y2="411.9" stroke="#000" stroke-width="1.4"/>
<line x1="375.2" y1="238.7" x2="375.2" y2="411.9" stroke="#ff0000" stroke-width="1.4"/>
<line x1="370.7" y1="399.75" x2="375.2" y2="399.75" stroke="#ff0000" stroke-width="1.4"/>
<text transform="translate(368.6,401.85) scale(1.200,1)" font-family='"Liberation Sans", sans-serif' font-size="7.2" font-weight="bold" fill="#ff0000" text-anchor="end">20</text>
<line x1="370.7" y1="376.84" x2="375.2" y2="376.84" stroke="#ff0000" stroke-width="1.4"/>
<text transform="translate(368.6,378.94) scale(1.200,1)" font-family='"Liberation Sans", sans-serif' font-size="7.2" font-weight="bold" fill="#ff0000" text-anchor="end">30</text>
<line x1="370.7" y1="353.93" x2="375.2" y2="353.93" stroke="#ff0000" stroke-width="1.4"/>
<text transform="translate(368.6,356.03) scale(1.200,1)" font-family='"Liberation Sans", sans-serif' font-size="7.2" font-weight="bold" fill="#ff0000" text-anchor="end">40</text>
<line x1="370.7" y1="331.03" x2="375.2" y2="331.03" stroke="#ff0000" stroke-width="1.4"/>
<text transform="translate(368.6,333.13) scale(1.200,1)" font-family='"Liberation Sans", sans-serif' font-size="7.2" font-weight="bold" fill="#ff0000" text-anchor="end">50</text>
<line x1="370.7" y1="308.12" x2="375.2" y2="308.12" stroke="#ff0000" stroke-width="1.4"/>
<text transform="translate(368.6,310.22) scale(1.200,1)" font-family='"Liberation Sans", sans-serif' font-size="7.2" font-weight="bold" fill="#ff0000" text-anchor="end">60</text>
<line x1="370.7" y1="285.21" x2="375.2" y2="285.21" stroke="#ff0000" stroke-width="1.4"/>
<text transform="translate(368.6,287.31) scale(1.200,1)" font-family='"Liberation Sans", sans-serif' font-size="7.2" font-weight="bold" fill="#ff0000" text-anchor="end">70</text>
<line x1="370.7" y1="262.31" x2="375.2" y2="262.31" stroke="#ff0000" stroke-width="1.4"/>
<text transform="translate(368.6,264.41) scale(1.200,1)" font-family='"Liberation Sans", sans-serif' font-size="7.2" font-weight="bold" fill="#ff0000" text-anchor="end">80</text>
<line x1="370.7" y1="239.4" x2="375.2" y2="239.4" stroke="#ff0000" stroke-width="1.4"/>
<text transform="translate(368.6,241.5) scale(1.200,1)" font-family='"Liberation Sans", sans-serif' font-size="7.2" font-weight="bold" fill="#ff0000" text-anchor="end">90</text>
<line x1="619.9" y1="403.02" x2="623.9" y2="403.02" stroke="#000" stroke-width="1.4"/>
<text transform="translate(626.8,405.32) scale(1.050,1)" font-family='"Liberation Serif", serif' font-size="7.6" font-weight="bold" fill="#000" text-anchor="start">5</text>
<line x1="619.9" y1="382.57" x2="623.9" y2="382.57" stroke="#000" stroke-width="1.4"/>
<text transform="translate(626.8,384.87) scale(1.050,1)" font-family='"Liberation Serif", serif' font-size="7.6" font-weight="bold" fill="#000" text-anchor="start">10</text>
<line x1="619.9" y1="362.11" x2="623.9" y2="362.11" stroke="#000" stroke-width="1.4"/>
<text transform="translate(626.8,364.41) scale(1.050,1)" font-family='"Liberation Serif", serif' font-size="7.6" font-weight="bold" fill="#000" text-anchor="start">15</text>
<line x1="619.9" y1="341.66" x2="623.9" y2="341.66" stroke="#000" stroke-width="1.4"/>
<text transform="translate(626.8,343.96) scale(1.050,1)" font-family='"Liberation Serif", serif' font-size="7.6" font-weight="bold" fill="#000" text-anchor="start">20</text>
<line x1="619.9" y1="321.21" x2="623.9" y2="321.21" stroke="#000" stroke-width="1.4"/>
<text transform="translate(626.8,323.51) scale(1.050,1)" font-family='"Liberation Serif", serif' font-size="7.6" font-weight="bold" fill="#000" text-anchor="start">25</text>
<line x1="619.9" y1="300.76" x2="623.9" y2="300.76" stroke="#000" stroke-width="1.4"/>
<text transform="translate(626.8,303.06) scale(1.050,1)" font-family='"Liberation Serif", serif' font-size="7.6" font-weight="bold" fill="#000" text-anchor="start">30</text>
<line x1="619.9" y1="280.3" x2="623.9" y2="280.3" stroke="#000" stroke-width="1.4"/>
<text transform="translate(626.8,282.6) scale(1.050,1)" font-family='"Liberation Serif", serif' font-size="7.6" font-weight="bold" fill="#000" text-anchor="start">35</text>
<line x1="619.9" y1="259.85" x2="623.9" y2="259.85" stroke="#000" stroke-width="1.4"/>
<text transform="translate(626.8,262.15) scale(1.050,1)" font-family='"Liberation Serif", serif' font-size="7.6" font-weight="bold" fill="#000" text-anchor="start">40</text>
<line x1="619.9" y1="239.4" x2="623.9" y2="239.4" stroke="#000" stroke-width="1.4"/>
<text transform="translate(626.8,241.7) scale(1.050,1)" font-family='"Liberation Serif", serif' font-size="7.6" font-weight="bold" fill="#000" text-anchor="start">45</text>
<line x1="375.2" y1="411.2" x2="375.2" y2="414.2" stroke="#000" stroke-width="1.4"/>
<text transform="translate(375.2,421.9) scale(1.080,1)" font-family='"Liberation Sans", sans-serif' font-size="7.4" font-weight="bold" fill="#000" text-anchor="middle">0</text>
<line x1="397.45" y1="411.2" x2="397.45" y2="414.2" stroke="#000" stroke-width="1.4"/>
<text transform="translate(397.45,421.9) scale(1.080,1)" font-family='"Liberation Sans", sans-serif' font-size="7.4" font-weight="bold" fill="#000" text-anchor="middle">1</text>
<line x1="419.69" y1="411.2" x2="419.69" y2="414.2" stroke="#000" stroke-width="1.4"/>
<text transform="translate(419.69,421.9) scale(1.080,1)" font-family='"Liberation Sans", sans-serif' font-size="7.4" font-weight="bold" fill="#000" text-anchor="middle">2</text>
<line x1="441.94" y1="411.2" x2="441.94" y2="414.2" stroke="#000" stroke-width="1.4"/>
<text transform="translate(441.94,421.9) scale(1.080,1)" font-family='"Liberation Sans", sans-serif' font-size="7.4" font-weight="bold" fill="#000" text-anchor="middle">3</text>
<line x1="464.18" y1="411.2" x2="464.18" y2="414.2" stroke="#000" stroke-width="1.4"/>
<text transform="translate(464.18,421.9) scale(1.080,1)" font-family='"Liberation Sans", sans-serif' font-size="7.4" font-weight="bold" fill="#000" text-anchor="middle">4</text>
<line x1="486.43" y1="411.2" x2="486.43" y2="414.2" stroke="#000" stroke-width="1.4"/>
<text transform="translate(486.43,421.9) scale(1.080,1)" font-family='"Liberation Sans", sans-serif' font-size="7.4" font-weight="bold" fill="#000" text-anchor="middle">5</text>
<line x1="508.67" y1="411.2" x2="508.67" y2="414.2" stroke="#000" stroke-width="1.4"/>
<text transform="translate(508.67,421.9) scale(1.080,1)" font-family='"Liberation Sans", sans-serif' font-size="7.4" font-weight="bold" fill="#000" text-anchor="middle">6</text>
<line x1="530.92" y1="411.2" x2="530.92" y2="414.2" stroke="#000" stroke-width="1.4"/>
<text transform="translate(530.92,421.9) scale(1.080,1)" font-family='"Liberation Sans", sans-serif' font-size="7.4" font-weight="bold" fill="#000" text-anchor="middle">7</text>
<line x1="553.16" y1="411.2" x2="553.16" y2="414.2" stroke="#000" stroke-width="1.4"/>
<text transform="translate(553.16,421.9) scale(1.080,1)" font-family='"Liberation Sans", sans-serif' font-size="7.4" font-weight="bold" fill="#000" text-anchor="middle">8</text>
<line x1="575.41" y1="411.2" x2="575.41" y2="414.2" stroke="#000" stroke-width="1.4"/>
<text transform="translate(575.41,421.9) scale(1.080,1)" font-family='"Liberation Sans", sans-serif' font-size="7.4" font-weight="bold" fill="#000" text-anchor="middle">9</text>
<line x1="597.65" y1="411.2" x2="597.65" y2="414.2" stroke="#000" stroke-width="1.4"/>
<text transform="translate(597.65,421.9) scale(1.080,1)" font-family='"Liberation Sans", sans-serif' font-size="7.4" font-weight="bold" fill="#000" text-anchor="middle">10</text>
<line x1="619.9" y1="411.2" x2="619.9" y2="414.2" stroke="#000" stroke-width="1.4"/>
<text transform="translate(619.9,421.9) scale(1.080,1)" font-family='"Liberation Sans", sans-serif' font-size="7.4" font-weight="bold" fill="#000" text-anchor="middle">11</text>
<text transform="translate(476.8,250.5) scale(1.081,1)" font-family='"Liberation Sans", sans-serif' font-size="9.6" font-weight="bold" fill="#ff0000" text-anchor="start">DR-81</text>
<text transform="translate(596.4,250.4) scale(1.219,1)" font-family='"Liberation Sans", sans-serif' font-size="8.2" font-weight="bold" fill="#000" text-anchor="start">(c-2)</text>
<line x1="446" y1="292.6" x2="418.5" y2="292.6" stroke="#ff0000" stroke-width="1.7"/>
<polygon points="409,292.6 418.5,290.1 418.5,295.1" fill="#ff0000"/>
<line x1="446" y1="375" x2="469.5" y2="375" stroke="#000" stroke-width="1.7"/>
<polygon points="479,375 469.5,372.5 469.5,377.5" fill="#000"/>
<text transform="translate(352.5,325) rotate(-90) scale(0.866,1)" font-family='"Liberation Sans", sans-serif' font-size="11" font-weight="bold" fill="#ff0000" text-anchor="middle">% Removal</text>
<text transform="translate(647,325.1) rotate(-90)" font-family='"Liberation Sans", sans-serif' font-size="10.8" font-weight="bold" text-anchor="middle" textLength="40" lengthAdjust="spacingAndGlyphs"><tspan font-style="italic">q</tspan><tspan font-size="6.48" dy="2.7">e</tspan><tspan dy="-2.7"> (mg/g)</tspan></text>
<text transform="translate(439.1,437.3) scale(1.209,1)" font-family='"Liberation Sans", sans-serif' font-size="8.6" font-weight="bold" fill="#000" text-anchor="start">Adsorbent dosage (g/L)</text>
<polyline points="61.1,492.6 67.1,498.2 78.8,530 102.7,533.5 150,591.5 198,616 245,628.2 293,633.8" fill="none" stroke="#000" stroke-width="2" stroke-linejoin="round"/>
<circle cx="61.1" cy="492.6" r="2" fill="#000"/>
<circle cx="67.1" cy="498.2" r="2" fill="#000"/>
<circle cx="78.8" cy="530" r="2" fill="#000"/>
<circle cx="102.7" cy="533.5" r="2" fill="#000"/>
<circle cx="150" cy="591.5" r="2" fill="#000"/>
<circle cx="198" cy="616" r="2" fill="#000"/>
<circle cx="245" cy="628.2" r="2" fill="#000"/>
<circle cx="293" cy="633.8" r="2" fill="#000"/>
<polyline points="61,632.5 66.5,615 78.5,594 102.5,536.5 150,521.5 198,516.5 245,510.8 293,499.3" fill="none" stroke="#00e000" stroke-width="2" stroke-linejoin="round"/>
<rect x="59.4" y="630.9" width="3.2" height="3.2" fill="#fff" stroke="#00e000" stroke-width="0.9"/>
<rect x="64.9" y="613.4" width="3.2" height="3.2" fill="#fff" stroke="#00e000" stroke-width="0.9"/>
<rect x="76.9" y="592.4" width="3.2" height="3.2" fill="#fff" stroke="#00e000" stroke-width="0.9"/>
<rect x="100.9" y="534.9" width="3.2" height="3.2" fill="#fff" stroke="#00e000" stroke-width="0.9"/>
<rect x="148.4" y="519.9" width="3.2" height="3.2" fill="#fff" stroke="#00e000" stroke-width="0.9"/>
<rect x="196.4" y="514.9" width="3.2" height="3.2" fill="#fff" stroke="#00e000" stroke-width="0.9"/>
<rect x="243.4" y="509.2" width="3.2" height="3.2" fill="#fff" stroke="#00e000" stroke-width="0.9"/>
<rect x="291.4" y="497.7" width="3.2" height="3.2" fill="#fff" stroke="#00e000" stroke-width="0.9"/>
<line x1="54.6" y1="474" x2="317" y2="474" stroke="#000" stroke-width="1.4"/>
<line x1="55.3" y1="649.6" x2="317.7" y2="649.6" stroke="#000" stroke-width="1.4"/>
<line x1="317" y1="473.3" x2="317" y2="650.3" stroke="#000" stroke-width="1.4"/>
<line x1="55.3" y1="473.3" x2="55.3" y2="650.3" stroke="#00e000" stroke-width="1.4"/>
<line x1="50.8" y1="649.6" x2="55.3" y2="649.6" stroke="#00e000" stroke-width="1.4"/>
<text transform="translate(47,651.7) scale(1.240,1)" font-family='"Liberation Sans", sans-serif' font-size="7.2" font-weight="bold" fill="#00e000" text-anchor="end">0</text>
<line x1="50.8" y1="627.65" x2="55.3" y2="627.65" stroke="#00e000" stroke-width="1.4"/>
<text transform="translate(47,629.75) scale(1.240,1)" font-family='"Liberation Sans", sans-serif' font-size="7.2" font-weight="bold" fill="#00e000" text-anchor="end">10</text>
<line x1="50.8" y1="605.7" x2="55.3" y2="605.7" stroke="#00e000" stroke-width="1.4"/>
<text transform="translate(47,607.8) scale(1.240,1)" font-family='"Liberation Sans", sans-serif' font-size="7.2" font-weight="bold" fill="#00e000" text-anchor="end">20</text>
<line x1="50.8" y1="583.75" x2="55.3" y2="583.75" stroke="#00e000" stroke-width="1.4"/>
<text transform="translate(47,585.85) scale(1.240,1)" font-family='"Liberation Sans", sans-serif' font-size="7.2" font-weight="bold" fill="#00e000" text-anchor="end">30</text>
<line x1="50.8" y1="561.8" x2="55.3" y2="561.8" stroke="#00e000" stroke-width="1.4"/>
<text transform="translate(47,563.9) scale(1.240,1)" font-family='"Liberation Sans", sans-serif' font-size="7.2" font-weight="bold" fill="#00e000" text-anchor="end">40</text>
<line x1="50.8" y1="539.85" x2="55.3" y2="539.85" stroke="#00e000" stroke-width="1.4"/>
<text transform="translate(47,541.95) scale(1.240,1)" font-family='"Liberation Sans", sans-serif' font-size="7.2" font-weight="bold" fill="#00e000" text-anchor="end">50</text>
<line x1="50.8" y1="517.9" x2="55.3" y2="517.9" stroke="#00e000" stroke-width="1.4"/>
<text transform="translate(47,520) scale(1.240,1)" font-family='"Liberation Sans", sans-serif' font-size="7.2" font-weight="bold" fill="#00e000" text-anchor="end">60</text>
<line x1="50.8" y1="495.95" x2="55.3" y2="495.95" stroke="#00e000" stroke-width="1.4"/>
<text transform="translate(47,498.05) scale(1.240,1)" font-family='"Liberation Sans", sans-serif' font-size="7.2" font-weight="bold" fill="#00e000" text-anchor="end">70</text>
<line x1="50.8" y1="474" x2="55.3" y2="474" stroke="#00e000" stroke-width="1.4"/>
<text transform="translate(47,476.1) scale(1.240,1)" font-family='"Liberation Sans", sans-serif' font-size="7.2" font-weight="bold" fill="#00e000" text-anchor="end">80</text>
<line x1="317" y1="649.6" x2="321" y2="649.6" stroke="#000" stroke-width="1.4"/>
<text transform="translate(324.2,651.9) scale(1.060,1)" font-family='"Liberation Serif", serif' font-size="7.6" font-weight="bold" fill="#000" text-anchor="start">2</text>
<line x1="317" y1="627.65" x2="321" y2="627.65" stroke="#000" stroke-width="1.4"/>
<text transform="translate(324.2,629.95) scale(1.060,1)" font-family='"Liberation Serif", serif' font-size="7.6" font-weight="bold" fill="#000" text-anchor="start">4</text>
<line x1="317" y1="605.7" x2="321" y2="605.7" stroke="#000" stroke-width="1.4"/>
<text transform="translate(324.2,608) scale(1.060,1)" font-family='"Liberation Serif", serif' font-size="7.6" font-weight="bold" fill="#000" text-anchor="start">6</text>
<line x1="317" y1="583.75" x2="321" y2="583.75" stroke="#000" stroke-width="1.4"/>
<text transform="translate(324.2,586.05) scale(1.060,1)" font-family='"Liberation Serif", serif' font-size="7.6" font-weight="bold" fill="#000" text-anchor="start">8</text>
<line x1="317" y1="561.8" x2="321" y2="561.8" stroke="#000" stroke-width="1.4"/>
<text transform="translate(324.2,564.1) scale(1.060,1)" font-family='"Liberation Serif", serif' font-size="7.6" font-weight="bold" fill="#000" text-anchor="start">10</text>
<line x1="317" y1="539.85" x2="321" y2="539.85" stroke="#000" stroke-width="1.4"/>
<text transform="translate(324.2,542.15) scale(1.060,1)" font-family='"Liberation Serif", serif' font-size="7.6" font-weight="bold" fill="#000" text-anchor="start">12</text>
<line x1="317" y1="517.9" x2="321" y2="517.9" stroke="#000" stroke-width="1.4"/>
<text transform="translate(324.2,520.2) scale(1.060,1)" font-family='"Liberation Serif", serif' font-size="7.6" font-weight="bold" fill="#000" text-anchor="start">14</text>
<line x1="317" y1="495.95" x2="321" y2="495.95" stroke="#000" stroke-width="1.4"/>
<text transform="translate(324.2,498.25) scale(1.060,1)" font-family='"Liberation Serif", serif' font-size="7.6" font-weight="bold" fill="#000" text-anchor="start">16</text>
<line x1="317" y1="474" x2="321" y2="474" stroke="#000" stroke-width="1.4"/>
<text transform="translate(324.2,476.3) scale(1.060,1)" font-family='"Liberation Serif", serif' font-size="7.6" font-weight="bold" fill="#000" text-anchor="start">18</text>
<line x1="55.3" y1="649.6" x2="55.3" y2="652.6" stroke="#000" stroke-width="1.4"/>
<text transform="translate(55.3,660.7) scale(1.080,1)" font-family='"Liberation Sans", sans-serif' font-size="7.4" font-weight="bold" fill="#000" text-anchor="middle">0</text>
<line x1="79.09" y1="649.6" x2="79.09" y2="652.6" stroke="#000" stroke-width="1.4"/>
<text transform="translate(79.09,660.7) scale(1.080,1)" font-family='"Liberation Sans", sans-serif' font-size="7.4" font-weight="bold" fill="#000" text-anchor="middle">1</text>
<line x1="102.88" y1="649.6" x2="102.88" y2="652.6" stroke="#000" stroke-width="1.4"/>
<text transform="translate(102.88,660.7) scale(1.080,1)" font-family='"Liberation Sans", sans-serif' font-size="7.4" font-weight="bold" fill="#000" text-anchor="middle">2</text>
<line x1="126.67" y1="649.6" x2="126.67" y2="652.6" stroke="#000" stroke-width="1.4"/>
<text transform="translate(126.67,660.7) scale(1.080,1)" font-family='"Liberation Sans", sans-serif' font-size="7.4" font-weight="bold" fill="#000" text-anchor="middle">3</text>
<line x1="150.46" y1="649.6" x2="150.46" y2="652.6" stroke="#000" stroke-width="1.4"/>
<text transform="translate(150.46,660.7) scale(1.080,1)" font-family='"Liberation Sans", sans-serif' font-size="7.4" font-weight="bold" fill="#000" text-anchor="middle">4</text>
<line x1="174.25" y1="649.6" x2="174.25" y2="652.6" stroke="#000" stroke-width="1.4"/>
<text transform="translate(174.25,660.7) scale(1.080,1)" font-family='"Liberation Sans", sans-serif' font-size="7.4" font-weight="bold" fill="#000" text-anchor="middle">5</text>
<line x1="198.05" y1="649.6" x2="198.05" y2="652.6" stroke="#000" stroke-width="1.4"/>
<text transform="translate(198.05,660.7) scale(1.080,1)" font-family='"Liberation Sans", sans-serif' font-size="7.4" font-weight="bold" fill="#000" text-anchor="middle">6</text>
<line x1="221.84" y1="649.6" x2="221.84" y2="652.6" stroke="#000" stroke-width="1.4"/>
<text transform="translate(221.84,660.7) scale(1.080,1)" font-family='"Liberation Sans", sans-serif' font-size="7.4" font-weight="bold" fill="#000" text-anchor="middle">7</text>
<line x1="245.63" y1="649.6" x2="245.63" y2="652.6" stroke="#000" stroke-width="1.4"/>
<text transform="translate(245.63,660.7) scale(1.080,1)" font-family='"Liberation Sans", sans-serif' font-size="7.4" font-weight="bold" fill="#000" text-anchor="middle">8</text>
<line x1="269.42" y1="649.6" x2="269.42" y2="652.6" stroke="#000" stroke-width="1.4"/>
<text transform="translate(269.42,660.7) scale(1.080,1)" font-family='"Liberation Sans", sans-serif' font-size="7.4" font-weight="bold" fill="#000" text-anchor="middle">9</text>
<line x1="293.21" y1="649.6" x2="293.21" y2="652.6" stroke="#000" stroke-width="1.4"/>
<text transform="translate(293.21,660.7) scale(1.080,1)" font-family='"Liberation Sans", sans-serif' font-size="7.4" font-weight="bold" fill="#000" text-anchor="middle">10</text>
<line x1="317" y1="649.6" x2="317" y2="652.6" stroke="#000" stroke-width="1.4"/>
<text transform="translate(317,660.7) scale(1.080,1)" font-family='"Liberation Sans", sans-serif' font-size="7.4" font-weight="bold" fill="#000" text-anchor="middle">11</text>
<text transform="translate(169.15,485.6) scale(1.136,1)" font-family='"Liberation Sans", sans-serif' font-size="9.6" font-weight="bold" fill="#00e000" text-anchor="start">Cr(VI)</text>
<text transform="translate(289.7,484.6) scale(1.300,1)" font-family='"Liberation Sans", sans-serif' font-size="8.2" font-weight="bold" fill="#000" text-anchor="start">(c-3)</text>
<line x1="135" y1="525.2" x2="103.5" y2="525.2" stroke="#00e000" stroke-width="1.7"/>
<polygon points="94,525.2 103.5,522.7 103.5,527.7" fill="#00e000"/>
<line x1="170" y1="599" x2="193" y2="599" stroke="#000" stroke-width="1.7"/>
<polygon points="202.5,599 193,596.5 193,601.5" fill="#000"/>
<text transform="translate(33,561) rotate(-90) scale(0.901,1)" font-family='"Liberation Sans", sans-serif' font-size="10.4" font-weight="bold" fill="#00e000" text-anchor="middle">% Removal</text>
<text transform="translate(345.5,561.4) rotate(-90)" font-family='"Liberation Sans", sans-serif' font-size="10.8" font-weight="bold" text-anchor="middle" textLength="41.6" lengthAdjust="spacingAndGlyphs"><tspan font-style="italic">q</tspan><tspan font-size="6.48" dy="2.7">e</tspan><tspan dy="-2.7"> (mg/g)</tspan></text>
<text transform="translate(124,676) scale(1.288,1)" font-family='"Liberation Sans", sans-serif' font-size="8.6" font-weight="bold" fill="#000" text-anchor="start">Adsorbent dosage (g/L)</text>
<polyline points="403.75,534.93 414.91,544.39 448.37,550.96 504.15,566.72 559.92,602.19 615.69,625.83" fill="none" stroke="#00e000" stroke-width="1" stroke-linejoin="round"/>
<polygon points="403.75,532.12 406.35,536.8 401.15,536.8" fill="#00e000"/>
<polygon points="414.91,541.58 417.51,546.26 412.31,546.26" fill="#00e000"/>
<polygon points="448.37,548.15 450.97,552.83 445.77,552.83" fill="#00e000"/>
<polygon points="504.15,563.91 506.75,568.59 501.55,568.59" fill="#00e000"/>
<polygon points="559.92,599.38 562.52,604.06 557.32,604.06" fill="#00e000"/>
<polygon points="615.69,623.02 618.29,627.7 613.09,627.7" fill="#00e000"/>
<polyline points="403.75,502.35 414.91,528.89 448.37,542.29 504.15,559.89 559.92,598.51 615.69,623.99" fill="none" stroke="#ff0000" stroke-width="1" stroke-linejoin="round"/>
<circle cx="403.75" cy="502.35" r="2.3" fill="#ff0000"/>
<circle cx="414.91" cy="528.89" r="2.3" fill="#ff0000"/>
<circle cx="448.37" cy="542.29" r="2.3" fill="#ff0000"/>
<circle cx="504.15" cy="559.89" r="2.3" fill="#ff0000"/>
<circle cx="559.92" cy="598.51" r="2.3" fill="#ff0000"/>
<circle cx="615.69" cy="623.99" r="2.3" fill="#ff0000"/>
<polyline points="403.75,490.27 414.91,511.55 448.37,532.83 504.15,550.96 559.92,588.52 615.69,613.48" fill="none" stroke="#0000ff" stroke-width="1" stroke-linejoin="round"/>
<rect x="401.65" y="488.17" width="4.2" height="4.2" fill="#0000ff"/>
<rect x="412.81" y="509.45" width="4.2" height="4.2" fill="#0000ff"/>
<rect x="446.27" y="530.73" width="4.2" height="4.2" fill="#0000ff"/>
<rect x="502.05" y="548.86" width="4.2" height="4.2" fill="#0000ff"/>
<rect x="557.82" y="586.42" width="4.2" height="4.2" fill="#0000ff"/>
<rect x="613.59" y="611.38" width="4.2" height="4.2" fill="#0000ff"/>
<line x1="391.9" y1="466.1" x2="638" y2="466.1" stroke="#000" stroke-width="1.4"/>
<line x1="638" y1="465.4" x2="638" y2="650" stroke="#000" stroke-width="1.4"/>
<line x1="388" y1="650" x2="638.7" y2="650" stroke="#000" stroke-width="1.4"/>
<line x1="392.6" y1="465.4" x2="392.6" y2="654.6" stroke="#000" stroke-width="1.4"/>
<line x1="388" y1="650" x2="392.6" y2="650" stroke="#000" stroke-width="1.4"/>
<text transform="translate(386.6,652.8) scale(1.130,1)" font-family='"Liberation Sans", sans-serif' font-size="8" font-weight="bold" fill="#000" text-anchor="end">20</text>
<line x1="388" y1="623.73" x2="392.6" y2="623.73" stroke="#000" stroke-width="1.4"/>
<text transform="translate(386.6,626.53) scale(1.130,1)" font-family='"Liberation Sans", sans-serif' font-size="8" font-weight="bold" fill="#000" text-anchor="end">30</text>
<line x1="388" y1="597.46" x2="392.6" y2="597.46" stroke="#000" stroke-width="1.4"/>
<text transform="translate(386.6,600.26) scale(1.130,1)" font-family='"Liberation Sans", sans-serif' font-size="8" font-weight="bold" fill="#000" text-anchor="end">40</text>
<line x1="388" y1="571.19" x2="392.6" y2="571.19" stroke="#000" stroke-width="1.4"/>
<text transform="translate(386.6,573.99) scale(1.130,1)" font-family='"Liberation Sans", sans-serif' font-size="8" font-weight="bold" fill="#000" text-anchor="end">50</text>
<line x1="388" y1="544.91" x2="392.6" y2="544.91" stroke="#000" stroke-width="1.4"/>
<text transform="translate(386.6,547.71) scale(1.130,1)" font-family='"Liberation Sans", sans-serif' font-size="8" font-weight="bold" fill="#000" text-anchor="end">60</text>
<line x1="388" y1="518.64" x2="392.6" y2="518.64" stroke="#000" stroke-width="1.4"/>
<text transform="translate(386.6,521.44) scale(1.130,1)" font-family='"Liberation Sans", sans-serif' font-size="8" font-weight="bold" fill="#000" text-anchor="end">70</text>
<line x1="388" y1="492.37" x2="392.6" y2="492.37" stroke="#000" stroke-width="1.4"/>
<text transform="translate(386.6,495.17) scale(1.130,1)" font-family='"Liberation Sans", sans-serif' font-size="8" font-weight="bold" fill="#000" text-anchor="end">80</text>
<line x1="388" y1="466.1" x2="392.6" y2="466.1" stroke="#000" stroke-width="1.4"/>
<text transform="translate(386.6,468.9) scale(1.130,1)" font-family='"Liberation Sans", sans-serif' font-size="8" font-weight="bold" fill="#000" text-anchor="end">90</text>
<line x1="392.6" y1="650" x2="392.6" y2="654.6" stroke="#000" stroke-width="1.4"/>
<text transform="translate(392.6,663.4) scale(1.120,1)" font-family='"Liberation Sans", sans-serif' font-size="8.2" font-weight="bold" fill="#000" text-anchor="middle">0</text>
<line x1="437.22" y1="650" x2="437.22" y2="654.6" stroke="#000" stroke-width="1.4"/>
<text transform="translate(437.22,663.4) scale(1.120,1)" font-family='"Liberation Sans", sans-serif' font-size="8.2" font-weight="bold" fill="#000" text-anchor="middle">20</text>
<line x1="481.84" y1="650" x2="481.84" y2="654.6" stroke="#000" stroke-width="1.4"/>
<text transform="translate(481.84,663.4) scale(1.120,1)" font-family='"Liberation Sans", sans-serif' font-size="8.2" font-weight="bold" fill="#000" text-anchor="middle">40</text>
<line x1="526.45" y1="650" x2="526.45" y2="654.6" stroke="#000" stroke-width="1.4"/>
<text transform="translate(526.45,663.4) scale(1.120,1)" font-family='"Liberation Sans", sans-serif' font-size="8.2" font-weight="bold" fill="#000" text-anchor="middle">60</text>
<line x1="571.07" y1="650" x2="571.07" y2="654.6" stroke="#000" stroke-width="1.4"/>
<text transform="translate(571.07,663.4) scale(1.120,1)" font-family='"Liberation Sans", sans-serif' font-size="8.2" font-weight="bold" fill="#000" text-anchor="middle">80</text>
<line x1="615.69" y1="650" x2="615.69" y2="654.6" stroke="#000" stroke-width="1.4"/>
<text transform="translate(615.69,663.4) scale(1.120,1)" font-family='"Liberation Sans", sans-serif' font-size="8.2" font-weight="bold" fill="#000" text-anchor="middle">100</text>
<text transform="translate(369.3,558.8) rotate(-90) scale(0.945,1)" font-family='"Liberation Sans", sans-serif' font-size="12" font-weight="bold" fill="#000" text-anchor="middle">% Removal</text>
<text transform="translate(443.2,679.4) scale(1.082,1)" font-family='"Liberation Sans", sans-serif' font-size="11.2" font-weight="bold" fill="#000" text-anchor="start">Initial Concentration (mg/L)</text>
<text transform="translate(396.8,477.6) scale(1.141,1)" font-family='"Liberation Sans", sans-serif' font-size="10.4" font-weight="bold" fill="#000" text-anchor="start">(d-1)</text>
<rect x="576.1" y="465.2" width="61.6" height="41.2" fill="#fff" stroke="#808080" stroke-width="1"/>
<line x1="576.8" y1="473.1" x2="600.3" y2="473.1" stroke="#0000ff" stroke-width="1"/>
<rect x="587" y="471" width="4.2" height="4.2" fill="#0000ff"/>
<text transform="translate(603.8,476.7) scale(1.053,1)" font-family='"Liberation Sans", sans-serif' font-size="10.5" font-weight="bold" fill="#000" text-anchor="start">MB</text>
<line x1="576.8" y1="486.2" x2="600.3" y2="486.2" stroke="#ff0000" stroke-width="1"/>
<circle cx="589.1" cy="486.2" r="2.3" fill="#ff0000"/>
<text transform="translate(603.8,489.8) scale(1.039,1)" font-family='"Liberation Sans", sans-serif' font-size="10.5" font-weight="bold" fill="#000" text-anchor="start">DR-81</text>
<line x1="576.8" y1="499.3" x2="600.3" y2="499.3" stroke="#00e000" stroke-width="1"/>
<polygon points="589.1,496.49 591.7,501.17 586.5,501.17" fill="#00e000"/>
<text transform="translate(603.8,502.9) scale(1.081,1)" font-family='"Liberation Sans", sans-serif' font-size="10.5" font-weight="bold" fill="#000" text-anchor="start">Cr(VI)</text>
<rect x="45.9" y="861.01" width="14.75" height="3.19" fill="#00e000"/>
<rect x="60.65" y="857.46" width="14.75" height="6.74" fill="#ff0000"/>
<rect x="75.4" y="849.66" width="14.75" height="14.54" fill="#0000ff"/>
<rect x="91.5" y="851.34" width="14.75" height="12.86" fill="#00e000"/>
<rect x="106.25" y="837.07" width="14.75" height="27.13" fill="#ff0000"/>
<rect x="121" y="806.74" width="14.75" height="57.46" fill="#0000ff"/>
<rect x="149.9" y="841.15" width="14.75" height="23.05" fill="#00e000"/>
<rect x="164.65" y="816.14" width="14.75" height="48.06" fill="#ff0000"/>
<rect x="179.4" y="761.88" width="14.75" height="102.32" fill="#0000ff"/>
<rect x="207.4" y="838.66" width="14.75" height="25.54" fill="#00e000"/>
<rect x="222.15" y="811.18" width="14.75" height="53.02" fill="#ff0000"/>
<rect x="236.9" y="748.93" width="14.75" height="115.27" fill="#0000ff"/>
<rect x="264.9" y="834.05" width="14.75" height="30.15" fill="#00e000"/>
<rect x="279.65" y="807.63" width="14.75" height="56.57" fill="#ff0000"/>
<rect x="294.4" y="743.97" width="14.75" height="120.23" fill="#0000ff"/>
<line x1="41.9" y1="704.6" x2="312.5" y2="704.6" stroke="#000" stroke-width="1.4"/>
<line x1="312.5" y1="703.9" x2="312.5" y2="864.2" stroke="#000" stroke-width="1.4"/>
<line x1="38" y1="864.2" x2="313.2" y2="864.2" stroke="#000" stroke-width="1.4"/>
<line x1="42.6" y1="703.9" x2="42.6" y2="864.9" stroke="#000" stroke-width="1.4"/>
<line x1="38" y1="864.2" x2="42.6" y2="864.2" stroke="#000" stroke-width="1.4"/>
<text transform="translate(35.6,866.7) scale(1.360,1)" font-family='"Liberation Sans", sans-serif' font-size="7.2" font-weight="bold" fill="#000" text-anchor="end">0</text>
<line x1="38" y1="837.6" x2="42.6" y2="837.6" stroke="#000" stroke-width="1.4"/>
<text transform="translate(35.6,840.1) scale(1.360,1)" font-family='"Liberation Sans", sans-serif' font-size="7.2" font-weight="bold" fill="#000" text-anchor="end">15</text>
<line x1="38" y1="811" x2="42.6" y2="811" stroke="#000" stroke-width="1.4"/>
<text transform="translate(35.6,813.5) scale(1.360,1)" font-family='"Liberation Sans", sans-serif' font-size="7.2" font-weight="bold" fill="#000" text-anchor="end">30</text>
<line x1="38" y1="784.4" x2="42.6" y2="784.4" stroke="#000" stroke-width="1.4"/>
<text transform="translate(35.6,786.9) scale(1.360,1)" font-family='"Liberation Sans", sans-serif' font-size="7.2" font-weight="bold" fill="#000" text-anchor="end">45</text>
<line x1="38" y1="757.8" x2="42.6" y2="757.8" stroke="#000" stroke-width="1.4"/>
<text transform="translate(35.6,760.3) scale(1.360,1)" font-family='"Liberation Sans", sans-serif' font-size="7.2" font-weight="bold" fill="#000" text-anchor="end">60</text>
<line x1="38" y1="731.2" x2="42.6" y2="731.2" stroke="#000" stroke-width="1.4"/>
<text transform="translate(35.6,733.7) scale(1.360,1)" font-family='"Liberation Sans", sans-serif' font-size="7.2" font-weight="bold" fill="#000" text-anchor="end">75</text>
<line x1="38" y1="704.6" x2="42.6" y2="704.6" stroke="#000" stroke-width="1.4"/>
<text transform="translate(35.6,707.1) scale(1.360,1)" font-family='"Liberation Sans", sans-serif' font-size="7.2" font-weight="bold" fill="#000" text-anchor="end">90</text>
<line x1="55.9" y1="864.2" x2="55.9" y2="866.6" stroke="#000" stroke-width="1.4"/>
<text transform="translate(55.9,875.9) scale(1.330,1)" font-family='"Liberation Sans", sans-serif' font-size="7" font-weight="bold" fill="#000" text-anchor="middle">0</text>
<line x1="102.15" y1="864.2" x2="102.15" y2="866.6" stroke="#000" stroke-width="1.4"/>
<text transform="translate(102.15,875.9) scale(1.330,1)" font-family='"Liberation Sans", sans-serif' font-size="7" font-weight="bold" fill="#000" text-anchor="middle">20</text>
<line x1="148.4" y1="864.2" x2="148.4" y2="866.6" stroke="#000" stroke-width="1.4"/>
<text transform="translate(148.4,875.9) scale(1.330,1)" font-family='"Liberation Sans", sans-serif' font-size="7" font-weight="bold" fill="#000" text-anchor="middle">40</text>
<line x1="194.65" y1="864.2" x2="194.65" y2="866.6" stroke="#000" stroke-width="1.4"/>
<text transform="translate(194.65,875.9) scale(1.330,1)" font-family='"Liberation Sans", sans-serif' font-size="7" font-weight="bold" fill="#000" text-anchor="middle">60</text>
<line x1="240.9" y1="864.2" x2="240.9" y2="866.6" stroke="#000" stroke-width="1.4"/>
<text transform="translate(240.9,875.9) scale(1.330,1)" font-family='"Liberation Sans", sans-serif' font-size="7" font-weight="bold" fill="#000" text-anchor="middle">80</text>
<line x1="287.15" y1="864.2" x2="287.15" y2="866.6" stroke="#000" stroke-width="1.4"/>
<text transform="translate(287.15,875.9) scale(1.330,1)" font-family='"Liberation Sans", sans-serif' font-size="7" font-weight="bold" fill="#000" text-anchor="middle">100</text>
<text transform="translate(12.6,784.3) rotate(-90)" font-family='"Liberation Sans", sans-serif' font-size="12" font-weight="bold" font-style="italic" text-anchor="middle">q<tspan font-size="6.5" dy="2.8">e</tspan></text>
<text transform="translate(85.2,891.2) scale(1.208,1)" font-family='"Liberation Sans", sans-serif' font-size="11" font-weight="bold" fill="#000" text-anchor="start">Initial Concentration (mg/L)</text>
<text transform="translate(46.4,716) scale(1.508,1)" font-family='"Liberation Sans", sans-serif' font-size="8.6" font-weight="bold" fill="#000" text-anchor="start">(d-2)</text>
<rect x="244.7" y="704.6" width="67.8" height="34.5" fill="#fff" stroke="#808080" stroke-width="1"/>
<rect x="245.9" y="706.2" width="25.2" height="9.4" fill="#00e000"/>
<text transform="translate(274.9,714.2) scale(1.322,1)" font-family='"Liberation Sans", sans-serif' font-size="9.2" font-weight="bold" fill="#000" text-anchor="start">Cr(VI)</text>
<rect x="245.9" y="717.4" width="25.2" height="9.4" fill="#ff0000"/>
<text transform="translate(274.9,725.4) scale(1.305,1)" font-family='"Liberation Sans", sans-serif' font-size="9.2" font-weight="bold" fill="#000" text-anchor="start">DR-81</text>
<rect x="245.9" y="728.5" width="25.2" height="9.4" fill="#0000ff"/>
<text transform="translate(274.9,736.5) scale(1.300,1)" font-family='"Liberation Sans", sans-serif' font-size="9.2" font-weight="bold" fill="#000" text-anchor="start">MB</text>
<polyline points="405.6,835.61 467.2,807.65 513.4,793.4 559.6,770.18 605.8,750.13" fill="none" stroke="#00e000" stroke-width="2" stroke-linejoin="round"/>
<polygon points="405.6,832.81 408.2,837.49 403,837.49" fill="#00e000"/>
<polygon points="467.2,804.84 469.8,809.52 464.6,809.52" fill="#00e000"/>
<polygon points="513.4,790.59 516,795.27 510.8,795.27" fill="#00e000"/>
<polygon points="559.6,767.38 562.2,772.06 557,772.06" fill="#00e000"/>
<polygon points="605.8,747.32 608.4,752 603.2,752" fill="#00e000"/>
<polyline points="405.6,826.12 467.2,802.64 513.4,782.32 559.6,759.1 605.8,734.04" fill="none" stroke="#ff0000" stroke-width="2" stroke-linejoin="round"/>
<circle cx="405.6" cy="826.12" r="2.3" fill="#ff0000"/>
<circle cx="467.2" cy="802.64" r="2.3" fill="#ff0000"/>
<circle cx="513.4" cy="782.32" r="2.3" fill="#ff0000"/>
<circle cx="559.6" cy="759.1" r="2.3" fill="#ff0000"/>
<circle cx="605.8" cy="734.04" r="2.3" fill="#ff0000"/>
<polyline points="405.6,818.2 467.2,789.71 513.4,774.14 559.6,749.08 605.8,723.49" fill="none" stroke="#0000ff" stroke-width="2" stroke-linejoin="round"/>
<rect x="403.6" y="816.2" width="4" height="4" fill="#0000ff"/>
<rect x="465.2" y="787.71" width="4" height="4" fill="#0000ff"/>
<rect x="511.4" y="772.14" width="4" height="4" fill="#0000ff"/>
<rect x="557.6" y="747.08" width="4" height="4" fill="#0000ff"/>
<rect x="603.8" y="721.49" width="4" height="4" fill="#0000ff"/>
<line x1="392.4" y1="702.9" x2="638.2" y2="702.9" stroke="#000" stroke-width="1.3"/>
<line x1="374.1" y1="706.6" x2="652" y2="706.6" stroke="#000" stroke-width="1.4"/>
<line x1="652" y1="705.9" x2="652" y2="864.9" stroke="#000" stroke-width="1.4"/>
<line x1="370.2" y1="864.9" x2="652.7" y2="864.9" stroke="#000" stroke-width="1.4"/>
<line x1="374.8" y1="705.9" x2="374.8" y2="868.9" stroke="#000" stroke-width="1.4"/>
<line x1="370.2" y1="864.9" x2="374.8" y2="864.9" stroke="#000" stroke-width="1.4"/>
<text transform="translate(367.2,867.3) scale(1.450,1)" font-family='"Liberation Sans", sans-serif' font-size="6.8" font-weight="bold" fill="#000" text-anchor="end">40</text>
<line x1="370.2" y1="838.52" x2="374.8" y2="838.52" stroke="#000" stroke-width="1.4"/>
<text transform="translate(367.2,840.92) scale(1.450,1)" font-family='"Liberation Sans", sans-serif' font-size="6.8" font-weight="bold" fill="#000" text-anchor="end">50</text>
<line x1="370.2" y1="812.13" x2="374.8" y2="812.13" stroke="#000" stroke-width="1.4"/>
<text transform="translate(367.2,814.53) scale(1.450,1)" font-family='"Liberation Sans", sans-serif' font-size="6.8" font-weight="bold" fill="#000" text-anchor="end">60</text>
<line x1="370.2" y1="785.75" x2="374.8" y2="785.75" stroke="#000" stroke-width="1.4"/>
<text transform="translate(367.2,788.15) scale(1.450,1)" font-family='"Liberation Sans", sans-serif' font-size="6.8" font-weight="bold" fill="#000" text-anchor="end">70</text>
<line x1="370.2" y1="759.37" x2="374.8" y2="759.37" stroke="#000" stroke-width="1.4"/>
<text transform="translate(367.2,761.77) scale(1.450,1)" font-family='"Liberation Sans", sans-serif' font-size="6.8" font-weight="bold" fill="#000" text-anchor="end">80</text>
<line x1="370.2" y1="732.98" x2="374.8" y2="732.98" stroke="#000" stroke-width="1.4"/>
<text transform="translate(367.2,735.38) scale(1.450,1)" font-family='"Liberation Sans", sans-serif' font-size="6.8" font-weight="bold" fill="#000" text-anchor="end">90</text>
<line x1="370.2" y1="706.6" x2="374.8" y2="706.6" stroke="#000" stroke-width="1.4"/>
<text transform="translate(367.2,709) scale(1.450,1)" font-family='"Liberation Sans", sans-serif' font-size="6.8" font-weight="bold" fill="#000" text-anchor="end">100</text>
<line x1="374.8" y1="864.9" x2="374.8" y2="868.4" stroke="#000" stroke-width="1.4"/>
<text transform="translate(374.8,876.4) scale(1.450,1)" font-family='"Liberation Sans", sans-serif' font-size="6.8" font-weight="bold" fill="#000" text-anchor="middle">10</text>
<line x1="405.6" y1="864.9" x2="405.6" y2="868.4" stroke="#000" stroke-width="1.4"/>
<text transform="translate(405.6,876.4) scale(1.450,1)" font-family='"Liberation Sans", sans-serif' font-size="6.8" font-weight="bold" fill="#000" text-anchor="middle">20</text>
<line x1="436.4" y1="864.9" x2="436.4" y2="868.4" stroke="#000" stroke-width="1.4"/>
<text transform="translate(436.4,876.4) scale(1.450,1)" font-family='"Liberation Sans", sans-serif' font-size="6.8" font-weight="bold" fill="#000" text-anchor="middle">30</text>
<line x1="467.2" y1="864.9" x2="467.2" y2="868.4" stroke="#000" stroke-width="1.4"/>
<text transform="translate(467.2,876.4) scale(1.450,1)" font-family='"Liberation Sans", sans-serif' font-size="6.8" font-weight="bold" fill="#000" text-anchor="middle">40</text>
<line x1="498" y1="864.9" x2="498" y2="868.4" stroke="#000" stroke-width="1.4"/>
<text transform="translate(498,876.4) scale(1.450,1)" font-family='"Liberation Sans", sans-serif' font-size="6.8" font-weight="bold" fill="#000" text-anchor="middle">50</text>
<line x1="528.8" y1="864.9" x2="528.8" y2="868.4" stroke="#000" stroke-width="1.4"/>
<text transform="translate(528.8,876.4) scale(1.450,1)" font-family='"Liberation Sans", sans-serif' font-size="6.8" font-weight="bold" fill="#000" text-anchor="middle">60</text>
<line x1="559.6" y1="864.9" x2="559.6" y2="868.4" stroke="#000" stroke-width="1.4"/>
<text transform="translate(559.6,876.4) scale(1.450,1)" font-family='"Liberation Sans", sans-serif' font-size="6.8" font-weight="bold" fill="#000" text-anchor="middle">70</text>
<line x1="590.4" y1="864.9" x2="590.4" y2="868.4" stroke="#000" stroke-width="1.4"/>
<text transform="translate(590.4,876.4) scale(1.450,1)" font-family='"Liberation Sans", sans-serif' font-size="6.8" font-weight="bold" fill="#000" text-anchor="middle">80</text>
<line x1="621.2" y1="864.9" x2="621.2" y2="868.4" stroke="#000" stroke-width="1.4"/>
<text transform="translate(621.2,876.4) scale(1.450,1)" font-family='"Liberation Sans", sans-serif' font-size="6.8" font-weight="bold" fill="#000" text-anchor="middle">90</text>
<line x1="652" y1="864.9" x2="652" y2="868.4" stroke="#000" stroke-width="1.4"/>
<text transform="translate(652,876.4) scale(1.450,1)" font-family='"Liberation Sans", sans-serif' font-size="6.8" font-weight="bold" fill="#000" text-anchor="middle">100</text>
<text transform="translate(337.2,789.4) rotate(-90) scale(0.771,1)" font-family='"Liberation Sans", sans-serif' font-size="12.6" font-weight="bold" fill="#000" text-anchor="middle">% Removal</text>
<text transform="translate(438.6,891) scale(1.49,1)" font-family='"Liberation Sans", sans-serif' font-size="9.2" font-weight="bold">Solution Temperature (<tspan font-size="5.6" dy="-4">0</tspan><tspan dy="4">C)</tspan></text>
<text transform="translate(630.2,717.2) scale(1.558,1)" font-family='"Liberation Sans", sans-serif' font-size="8.4" font-weight="bold" fill="#000" text-anchor="start">(e)</text>
<rect x="585.2" y="793.3" width="66.8" height="33" fill="#fff" stroke="#808080" stroke-width="1"/>
<line x1="586" y1="799.7" x2="613.3" y2="799.7" stroke="#0000ff" stroke-width="2"/>
<rect x="597.7" y="797.6" width="4.2" height="4.2" fill="#0000ff"/>
<text transform="translate(616.5,802.7) scale(1.407,1)" font-family='"Liberation Sans", sans-serif' font-size="8" font-weight="bold" fill="#000" text-anchor="start">MB</text>
<line x1="586" y1="809.95" x2="613.3" y2="809.95" stroke="#ff0000" stroke-width="2"/>
<circle cx="599.8" cy="809.95" r="2.4" fill="#ff0000"/>
<text transform="translate(616.5,812.95) scale(1.380,1)" font-family='"Liberation Sans", sans-serif' font-size="8" font-weight="bold" fill="#000" text-anchor="start">DR-81</text>
<line x1="586" y1="820.2" x2="613.3" y2="820.2" stroke="#00e000" stroke-width="2"/>
<polygon points="599.8,817.39 602.4,822.07 597.2,822.07" fill="#00e000"/>
<text transform="translate(616.5,823.2) scale(1.401,1)" font-family='"Liberation Sans", sans-serif' font-size="8" font-weight="bold" fill="#000" text-anchor="start">Cr(VI)</text>
</svg></body></html>
